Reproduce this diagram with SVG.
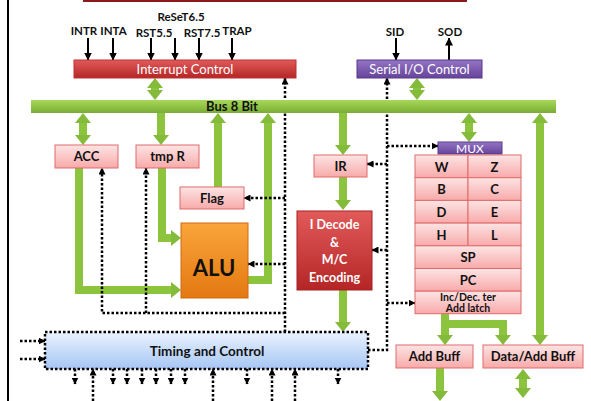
<svg xmlns="http://www.w3.org/2000/svg" width="591" height="401" viewBox="0 0 591 401">
<style>
text{font-family:Lato,"Open Sans","Liberation Sans",sans-serif;font-weight:bold;text-anchor:middle;fill:#111}
.w{fill:#fff}
.reg{font-weight:normal}
.pink{fill:url(#gPink);stroke:#e06a6a;stroke-width:1}
.green{fill:none;stroke:#8cc43e;stroke-width:8}
.dot{fill:none;stroke:#000;stroke-width:2.5;stroke-dasharray:2.5 2}
.sig{fill:none;stroke:#000;stroke-width:2}
</style>
<defs>
<linearGradient id="gPink" x1="0" y1="0" x2="0" y2="1"><stop offset="0" stop-color="#fde4e4"/><stop offset="1" stop-color="#f8aaaa"/></linearGradient>
<linearGradient id="gRed" x1="0" y1="0" x2="0" y2="1"><stop offset="0" stop-color="#e25a5a"/><stop offset="1" stop-color="#b42626"/></linearGradient>
<linearGradient id="gPur" x1="0" y1="0" x2="0" y2="1"><stop offset="0" stop-color="#9474c4"/><stop offset="1" stop-color="#65449a"/></linearGradient>
<linearGradient id="gOr" x1="0" y1="0" x2="0" y2="1"><stop offset="0" stop-color="#f9a53a"/><stop offset="1" stop-color="#e47812"/></linearGradient>
<linearGradient id="gBus" x1="0" y1="0" x2="0" y2="1"><stop offset="0" stop-color="#a8d85a"/><stop offset="1" stop-color="#79ad33"/></linearGradient>
<linearGradient id="gBlue" x1="0" y1="0" x2="0" y2="1"><stop offset="0" stop-color="#eaf2ff"/><stop offset="1" stop-color="#a6c6f4"/></linearGradient>
<marker id="ga" markerUnits="userSpaceOnUse" viewBox="0 0 10 16" markerWidth="10" markerHeight="16" refX="1" refY="8" orient="auto-start-reverse"><path d="M0,0 L10,8 L0,16 z" fill="#84bb3a"/></marker>
<marker id="da" markerUnits="userSpaceOnUse" viewBox="0 0 7 7" markerWidth="7" markerHeight="7" refX="6.5" refY="3.5" orient="auto"><path d="M0,0 L7,3.5 L0,7 z" fill="#000"/></marker>
<marker id="sa" markerUnits="userSpaceOnUse" viewBox="0 0 8 8" markerWidth="8" markerHeight="8" refX="7.5" refY="4" orient="auto"><path d="M0,0 L8,4 L0,8 z" fill="#000"/></marker>
</defs>
<rect width="591" height="401" fill="#fff"/>
<line x1="8" y1="0" x2="8" y2="401" stroke="#000" stroke-width="2"/>
<rect x="84" y="-6" width="382" height="7" fill="#fff" stroke="#8b1a1a" stroke-width="2"/>

<g id="connectors">
<g id="signals">
<path class="sig" d="M88,38 V60" marker-end="url(#sa)"/>
<path class="sig" d="M113,38 V60" marker-end="url(#sa)"/>
<path class="sig" d="M151,38 V60" marker-end="url(#sa)"/>
<path class="sig" d="M175,38 V60" marker-end="url(#sa)"/>
<path class="sig" d="M199,38 V60" marker-end="url(#sa)"/>
<path class="sig" d="M232,38 V60" marker-end="url(#sa)"/>
<path class="sig" d="M396,38 V60" marker-end="url(#sa)"/>
<path class="sig" d="M449,60 V38" marker-end="url(#sa)"/>
</g>
<g id="green">
<path class="green" d="M155,87 V91" marker-start="url(#ga)" marker-end="url(#ga)"/>
<path class="green" d="M417,87 V91" marker-start="url(#ga)" marker-end="url(#ga)"/>
<path class="green" d="M83,122 V136" marker-start="url(#ga)" marker-end="url(#ga)"/>
<path class="green" d="M161,113 V136" marker-end="url(#ga)"/>
<path class="green" d="M218,187 V122" marker-end="url(#ga)"/>
<path class="green" d="M248,280 H268 V122" marker-end="url(#ga)"/>
<path class="green" d="M79,168 V290 H172" marker-end="url(#ga)"/>
<path class="green" d="M162,168 V238 H172" marker-end="url(#ga)"/>
<path class="green" d="M343,113 V146" marker-end="url(#ga)"/>
<path class="green" d="M343,177 V201" marker-end="url(#ga)"/>
<path class="green" d="M343,290 V323" marker-end="url(#ga)"/>
<path class="green" d="M469,122 V133" marker-start="url(#ga)" marker-end="url(#ga)"/>
<path class="green" d="M540,122 V336" marker-start="url(#ga)" marker-end="url(#ga)"/>
<path class="green" d="M445,313 V336" marker-end="url(#ga)"/>
<path class="green" d="M445,324 H503 V336" marker-end="url(#ga)"/>
<path class="green" d="M440,368 V392" marker-end="url(#ga)"/>
<path class="green" d="M523,378 V389" marker-start="url(#ga)" marker-end="url(#ga)"/>
</g>
<g id="dotted">
<path class="dot" d="M285,332 V78" marker-end="url(#da)"/>
<path class="dot" d="M285,198 H244" marker-end="url(#da)"/>
<path class="dot" d="M285,264 H248" marker-end="url(#da)"/>
<path class="dot" d="M285,313 H102 V168" marker-end="url(#da)"/>
<path class="dot" d="M146,313 V168" marker-end="url(#da)"/>
<path class="dot" d="M368,350 H387 V78" marker-end="url(#da)"/>
<path class="dot" d="M387,146 H438" marker-end="url(#da)"/>
<path class="dot" d="M387,164 H367" marker-end="url(#da)"/>
<path class="dot" d="M387,250 H372" marker-end="url(#da)"/>
<path class="dot" d="M387,303 H415" marker-end="url(#da)"/>
<path class="dot" d="M20,341 H45" marker-end="url(#da)"/>
<path class="dot" d="M20,359 H45" marker-end="url(#da)"/>
<path class="dot" d="M75,369 V384" marker-end="url(#da)"/>
<path class="dot" d="M113,369 V384" marker-end="url(#da)"/>
<path class="dot" d="M127,369 V384" marker-end="url(#da)"/>
<path class="dot" d="M142,369 V384" marker-end="url(#da)"/>
<path class="dot" d="M156,369 V384" marker-end="url(#da)"/>
<path class="dot" d="M171,369 V384" marker-end="url(#da)"/>
<path class="dot" d="M185,369 V384" marker-end="url(#da)"/>
<path class="dot" d="M247,369 V384" marker-end="url(#da)"/>
<path class="dot" d="M338,369 V384" marker-end="url(#da)"/>
<path class="dot" d="M93,401 V369" marker-end="url(#da)"/>
<path class="dot" d="M213,401 V369" marker-end="url(#da)"/>
<path class="dot" d="M272,401 V369" marker-end="url(#da)"/>
<path class="dot" d="M295,401 V369" marker-end="url(#da)"/>
</g>
</g>

<g id="labels">
<text x="84" y="35" font-size="11.5">INTR</text>
<text x="113.5" y="35" font-size="11.5">INTA</text>
<text x="181" y="21" font-size="11.5">ReSeT6.5</text>
<text x="154" y="37" font-size="11.5">RST5.5</text>
<text x="202" y="37" font-size="11.5">RST7.5</text>
<text x="237" y="35" font-size="11.5">TRAP</text>
<text x="395" y="36" font-size="11.5">SID</text>
<text x="450" y="36" font-size="11.5">SOD</text>
</g>

<g id="interrupt"><rect x="74" y="60" width="222" height="18" fill="url(#gRed)" stroke="#c03030"/><text class="w reg" x="185" y="73.5" font-size="13">Interrupt Control</text></g>
<g id="serial"><rect x="357" y="60" width="125" height="18" fill="url(#gPur)" stroke="#5a3a8a"/><text class="w reg" x="419.5" y="73.5" font-size="13">Serial I/O Control</text></g>
<g id="bus"><rect x="31" y="100" width="525" height="13" fill="url(#gBus)"/><text x="232" y="111" font-size="13">Bus 8 Bit</text></g>
<g id="acc"><rect class="pink" x="55" y="145" width="63" height="23"/><text x="86.5" y="161" font-size="13">ACC</text></g>
<g id="tmpr"><rect class="pink" x="136" y="145" width="63" height="23"/><text x="167.5" y="161" font-size="13">tmp R</text></g>
<g id="flag"><rect class="pink" x="180" y="187" width="64" height="22"/><text x="212" y="203" font-size="13">Flag</text></g>
<g id="alu"><rect x="181" y="223" width="67" height="75" fill="url(#gOr)" stroke="#d06a10"/><text x="214" y="276" font-size="22">ALU</text></g>
<g id="ir"><rect class="pink" x="314" y="155" width="53" height="22"/><text x="340.5" y="171" font-size="13">IR</text></g>
<g id="idecode"><rect x="297" y="211" width="75" height="79" fill="url(#gRed)" stroke="#a82020"/>
<text class="w" x="334.5" y="229" font-size="12.5">I Decode</text>
<text class="w" x="334.5" y="247" font-size="12.5">&amp;</text>
<text class="w" x="334.5" y="264" font-size="12.5">M/C</text>
<text class="w" x="334.5" y="282" font-size="12.5">Encoding</text></g>
<g id="mux"><rect x="438" y="142" width="64" height="12" fill="url(#gPur)" stroke="#5a3a8a"/><text class="w reg" x="470" y="153" font-size="12">MUX</text></g>
<g id="registers">
<rect class="pink" x="415" y="155" width="53" height="22.7"/><text x="441.5" y="171.5" font-size="13">W</text>
<rect class="pink" x="468" y="155" width="53" height="22.7"/><text x="494.5" y="171.5" font-size="13">Z</text>
<rect class="pink" x="415" y="177.7" width="53" height="22.7"/><text x="441.5" y="194" font-size="13">B</text>
<rect class="pink" x="468" y="177.7" width="53" height="22.7"/><text x="494.5" y="194" font-size="13">C</text>
<rect class="pink" x="415" y="200.4" width="53" height="22.7"/><text x="441.5" y="216.5" font-size="13">D</text>
<rect class="pink" x="468" y="200.4" width="53" height="22.7"/><text x="494.5" y="216.5" font-size="13">E</text>
<rect class="pink" x="415" y="223.1" width="53" height="22.7"/><text x="441.5" y="239.5" font-size="13">H</text>
<rect class="pink" x="468" y="223.1" width="53" height="22.7"/><text x="494.5" y="239.5" font-size="13">L</text>
<rect class="pink" x="415" y="245.8" width="106" height="22.7"/><text x="468" y="262" font-size="13">SP</text>
<rect class="pink" x="415" y="268.5" width="106" height="22.7"/><text x="468" y="285" font-size="13">PC</text>
<rect class="pink" x="415" y="291.2" width="106" height="22.5"/><text x="468" y="301" font-size="10.5">Inc/Dec. ter</text><text x="468" y="312" font-size="10.5">Add latch</text>
</g>
<g id="timing"><rect x="45" y="332" width="323" height="37" fill="url(#gBlue)" stroke="#000" stroke-width="2.5" stroke-dasharray="2.5 2"/><text x="207" y="356" font-size="13.5">Timing and Control</text></g>
<g id="addbuff"><rect class="pink" x="396" y="345" width="77" height="23"/><text x="434.5" y="361" font-size="13">Add Buff</text></g>
<g id="databuff"><rect class="pink" x="483" y="345" width="100" height="23"/><text x="533" y="361" font-size="13">Data/Add Buff</text></g>
</svg>
